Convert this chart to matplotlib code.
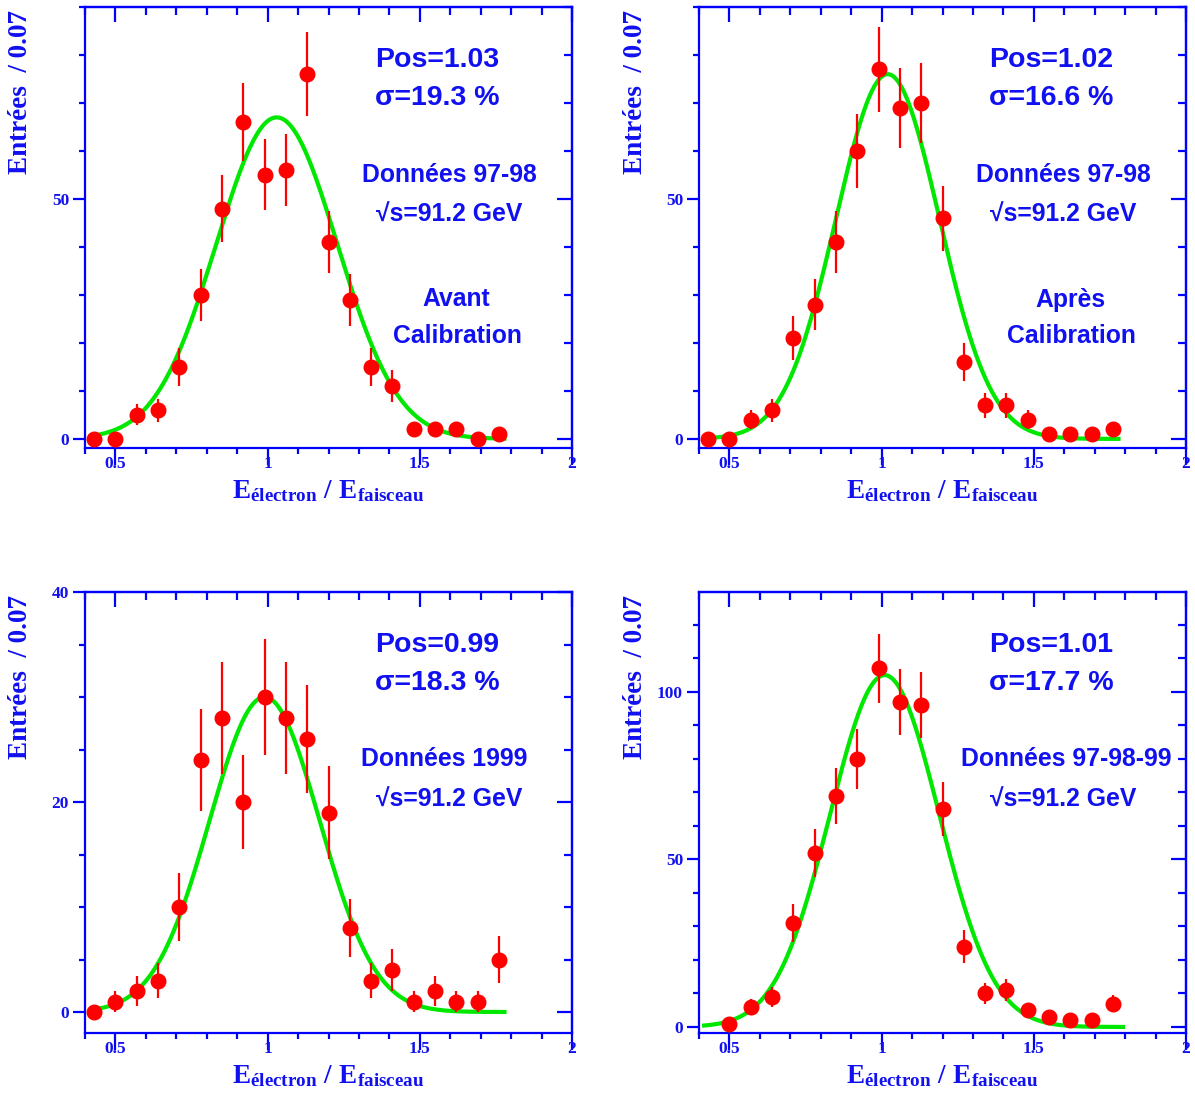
import numpy as np
import matplotlib
matplotlib.use("Agg")
import matplotlib.pyplot as plt
from matplotlib.ticker import MultipleLocator, FixedLocator, FuncFormatter

# ---------------- data ----------------
bins_20 = [0.43, 0.50, 0.57, 0.64, 0.71, 0.78, 0.85, 0.92, 0.99, 1.06,
           1.13, 1.20, 1.27, 1.34, 1.41, 1.48, 1.55, 1.62, 1.69, 1.76]
bins_19 = [0.50, 0.57, 0.64, 0.71, 0.78, 0.85, 0.92, 0.99, 1.06,
           1.13, 1.20, 1.27, 1.34, 1.41, 1.48, 1.55, 1.62, 1.69, 1.76]

counts_avant = [0, 0, 5, 6, 15, 30, 48, 66, 55, 56, 76, 41, 29, 15, 11, 2, 2, 2, 0, 1]
errors_avant = [0, 0, 2.2, 2.4, 3.9, 5.5, 6.9, 8.1, 7.4, 7.5, 8.7, 6.4, 5.4, 3.9, 3.3, 1.4, 1.4, 1.4, 0, 1.0]

counts_apres = [0, 0, 4, 6, 21, 28, 41, 60, 77, 69, 70, 46, 16, 7, 7, 4, 1, 1, 1, 2]
errors_apres = [0, 0, 2.0, 2.4, 4.6, 5.3, 6.4, 7.7, 8.8, 8.3, 8.4, 6.8, 4.0, 2.6, 2.6, 2.0, 1.0, 1.0, 1.0, 1.4]

counts_1999 = [0, 1, 2, 3, 10, 24, 28, 20, 30, 28, 26, 19, 8, 3, 4, 1, 2, 1, 1, 5]
errors_1999 = [0, 1.0, 1.4, 1.7, 3.2, 4.9, 5.3, 4.5, 5.5, 5.3, 5.1, 4.4, 2.8, 1.7, 2.0, 1.0, 1.4, 1.0, 1.0, 2.2]

counts_all = [1, 6, 9, 31, 52, 69, 80, 107, 97, 96, 65, 24, 10, 11, 5, 3, 2, 2, 7]
errors_all = [1.0, 2.4, 3.0, 5.6, 7.2, 8.3, 8.9, 10.3, 9.8, 9.8, 8.1, 4.9, 3.2, 3.3, 2.2, 1.7, 1.4, 1.4, 2.6]

# Gaussian fit parameters
fit_amp = [67, 76, 30, 105]
fit_pos = [1.03, 1.02, 0.99, 1.01]
fit_sigma_pct = [19.3, 16.6, 18.3, 17.7]

pos_labels = ["Pos=1.03", "Pos=1.02", "Pos=0.99", "Pos=1.01"]
sigma_labels = ["σ=19.3 %", "σ=16.6 %", "σ=18.3 %", "σ=17.7 %"]
data_labels = ["Données 97-98", "Données 97-98", "Données 1999", "Données 97-98-99"]
energy_label = "√s=91.2 GeV"
calib_labels = [("Avant", "Calibration"), ("Après", "Calibration"), None, None]

ylabel_text = "Entrées  / 0.07"
x_major = [0.5, 1.0, 1.5, 2.0]

# ---------------- style ----------------
BLUE = "#0000ff"
TXT = "#1010f0"
RED = "#ff0000"
GREEN = "#00e800"

plt.rcParams["mathtext.fontset"] = "custom"
plt.rcParams["mathtext.bf"] = "Liberation Serif:bold"
plt.rcParams["mathtext.rm"] = "Liberation Serif:bold"
plt.rcParams["mathtext.it"] = "Liberation Serif:bold"

W, H = 1195, 1099
fig = plt.figure(figsize=(W / 100, H / 100), dpi=100)

ax_w, ax_h = 487, 441
lefts = [85, 699, 85, 699]
tops = [7, 7, 592, 592]

panels = [
    (bins_20, counts_avant, errors_avant, (-1.9, 90), [0, 50], 10, (0.43, 1.785)),
    (bins_20, counts_apres, errors_apres, (-1.9, 90), [0, 50], 10, (0.43, 1.785)),
    (bins_20, counts_1999, errors_1999, (-2.0, 40), [0, 20, 40], 5, (0.43, 1.785)),
    (bins_19, counts_all, errors_all, (-1.8, 129.8), [0, 50, 100], 10, (0.41, 1.80)),
]

sans = ["Liberation Sans", "DejaVu Sans"]
serif = ["Liberation Serif", "DejaVu Serif"]


def fx(px):
    return px / ax_w


def fy(py):
    return 1 - py / ax_h


for i, (xs, ys, es, ylim, ymaj, ymin_step, crange) in enumerate(panels):
    ax = fig.add_axes([lefts[i] / W, 1 - (tops[i] + ax_h) / H, ax_w / W, ax_h / H])
    ax.set_xlim(0.4, 2.0)
    ax.set_ylim(*ylim)

    # fit curve
    sig = fit_sigma_pct[i] / 100.0 * fit_pos[i]
    xc = np.linspace(crange[0], crange[1], 400)
    yc = fit_amp[i] * np.exp(-0.5 * ((xc - fit_pos[i]) / sig) ** 2)
    ax.plot(xc, yc, color=GREEN, lw=3.0, zorder=2, solid_capstyle="butt")

    # data
    ax.errorbar(xs, ys, yerr=es, fmt="o", color=RED, ms=10.5, mec=RED,
                elinewidth=1.6, capsize=0, zorder=3)

    # spines
    for s in ax.spines.values():
        s.set_color(BLUE)
        s.set_linewidth(1.6)

    # bottom / left ticks (outward)
    ax.xaxis.set_major_locator(FixedLocator(x_major))
    ax.xaxis.set_minor_locator(MultipleLocator(0.1))
    ax.xaxis.set_major_formatter(FuncFormatter(lambda v, p: "%g" % v))
    ax.yaxis.set_major_locator(FixedLocator(ymaj))
    ax.yaxis.set_minor_locator(MultipleLocator(ymin_step))
    ax.yaxis.set_major_formatter(FuncFormatter(lambda v, p: "%g" % v))
    ax.tick_params(axis="x", which="major", direction="out", length=12, width=1.6,
                   color=BLUE, labelcolor=TXT, pad=-6, labelsize=12.5)
    ax.tick_params(axis="x", which="minor", direction="out", length=4.5, width=1.6, color=BLUE)
    ax.tick_params(axis="y", which="major", direction="out", length=9, width=1.6,
                   color=BLUE, labelcolor=TXT, pad=2.5, labelsize=12.5)
    ax.tick_params(axis="y", which="minor", direction="out", length=4, width=1.6, color=BLUE)
    for lab in ax.get_xticklabels() + ax.get_yticklabels():
        lab.set_family(serif)
        lab.set_fontweight("bold")

    # top / right ticks (inward)
    sx = ax.secondary_xaxis("top")
    sx.xaxis.set_major_locator(FixedLocator(x_major))
    sx.xaxis.set_minor_locator(MultipleLocator(0.1))
    sx.tick_params(which="major", direction="in", length=11, width=1.6, color=BLUE, labeltop=False)
    sx.tick_params(which="minor", direction="in", length=5.5, width=1.6, color=BLUE)
    sx.spines["top"].set_color(BLUE)
    sx.spines["top"].set_linewidth(1.6)

    sy = ax.secondary_yaxis("right")
    sy.yaxis.set_major_locator(FixedLocator(ymaj))
    sy.yaxis.set_minor_locator(MultipleLocator(ymin_step))
    sy.tick_params(which="major", direction="in", length=11, width=1.6, color=BLUE, labelright=False)
    sy.tick_params(which="minor", direction="in", length=5.5, width=1.6, color=BLUE)
    sy.spines["right"].set_color(BLUE)
    sy.spines["right"].set_linewidth(1.6)

    # axis titles
    ax.text(fx(-64), fy(3), ylabel_text, rotation=90, ha="center", va="top",
            color=TXT, fontsize=19.5, fontweight="bold", family=serif,
            transform=ax.transAxes)
    ax.text(0.5, fy(491), r"$\mathbf{E}_{\mathbf{électron}}\ \mathbf{/}\ \mathbf{E}_{\mathbf{faisceau}}$",
            ha="center", va="baseline", color=TXT, fontsize=19.5,
            transform=ax.transAxes)

    # annotations
    ax.text(fx(290), fy(60), pos_labels[i], ha="left", va="baseline", color=TXT,
            fontsize=20.5, fontweight="bold", family=sans, transform=ax.transAxes)
    ax.text(fx(290), fy(98), sigma_labels[i], ha="left", va="baseline", color=TXT,
            fontsize=20.5, fontweight="bold", family=sans, transform=ax.transAxes)
    dx = 364 if i != 2 else 359
    if i == 3:
        dx = 367
    ax.text(fx(dx), fy(174.5), data_labels[i], ha="center", va="baseline", color=TXT,
            fontsize=17.8, fontweight="bold", family=sans, transform=ax.transAxes)
    ax.text(fx(364), fy(214.5), energy_label, ha="center", va="baseline", color=TXT,
            fontsize=17.8, fontweight="bold", family=sans, transform=ax.transAxes)
    if calib_labels[i] is not None:
        ax.text(fx(371), fy(299.5), calib_labels[i][0], ha="center", va="baseline", color=TXT,
                fontsize=17.8, fontweight="bold", family=sans, transform=ax.transAxes)
        ax.text(fx(372), fy(336), calib_labels[i][1], ha="center", va="baseline", color=TXT,
                fontsize=17.8, fontweight="bold", family=sans, transform=ax.transAxes)

fig.savefig("out.png", dpi=100)
